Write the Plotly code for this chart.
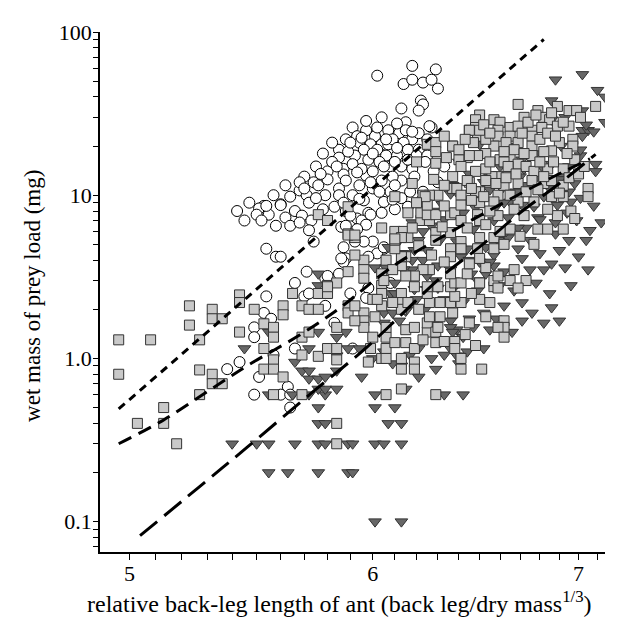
import plotly.graph_objects as go

# ---- data: (relative back-leg length, wet mass of prey load in mg) ----
circles = [
    (6.02,54),(6.18,62),(6.29,59),(6.14,48),(6.18,51),(6.23,49),(6.27,51),(6.30,45),(6.13,34),(6.22,38),
    (6.23,36),(6.21,33),(6.15,28),(6.27,26),(5.91,26),(5.78,18),(5.85,19),(5.85,17),(5.80,14),(5.87,14.5),
    (5.87,13.4),(5.74,12),(5.68,10.7),(5.64,9.8),(5.71,10),(5.79,10),(5.85,11),(5.60,8.8),(5.53,8.6),(5.51,8.3),
    (5.93,23),(5.94,21),(6.01,23),(6.07,25),(6.12,24),(6.15,25),(6.18,22),(6.21,24),(6.26,26.5),(5.99,20.5),
    (6.04,20.5),(6.07,20.5),(6.14,21),(6.16,19),(6.21,19),(5.96,19),(6.02,19),(5.92,17.5),(5.98,16.5),(6.06,17.5),
    (6.11,17.5),(6.20,17.5),(6.25,17.5),(6.24,16),(6.28,14),(6.08,15),(6.13,15),(6.18,14.5),(5.91,15.5),(5.88,12.3),
    (5.97,13.2),(6.04,12.3),(6.13,12.3),(5.91,10),(6.00,11),(6.08,10.5),(6.17,10.5),(6.23,10.5),(5.85,10),(5.96,9.3),
    (6.05,9.1),(6.13,9.6),(5.70,13),(5.75,15),(5.82,16),(5.82,21),(5.88,22),(5.76,11.5),(5.72,9),(5.66,8),
    (5.62,7.3),(5.69,7.5),(5.55,7.6),(5.50,7.6),(5.45,7.0),(5.42,8.0),(5.47,9.0),(5.57,10),(5.62,11.5),(5.68,12),
    (5.80,12.5),(5.83,8.5),(5.88,8.0),(5.93,7.2),(5.98,7.8),(6.04,7.8),(6.10,8.2),(6.16,8.5),(6.22,9.2),(6.30,12),
    (6.33,15),(6.00,14),(6.09,13),(5.94,11.5),(5.78,8.2),(5.73,7.0),(5.58,6.5),(5.64,6.5),(5.86,6.4),(5.54,4.7),
    (5.58,4.2),(5.60,4.2),(5.71,3.4),(5.66,2.9),(5.70,2.4),(5.72,2.5),(5.54,2.4),(5.79,2.1),(5.53,1.9),(5.56,1.75),
    (5.49,1.55),(5.49,1.35),(5.66,1.15),(5.57,1.05),(5.43,0.95),(5.38,0.86),(5.51,0.77),(5.72,6.1),(5.74,5.2),(5.87,4.8),
    (5.88,4.1),(5.87,3.9),(5.85,3.3),(5.79,3.1),(5.83,1.65),(5.63,0.67),(5.49,0.6),(5.60,0.6),(5.64,0.6),(5.64,0.5),
    (5.95,7.0),(6.00,5.2),(6.05,4.7),(6.02,4.4),(6.08,2.9),(5.98,2.7),(5.97,2.35),(5.91,1.15),(5.99,7.6),(5.90,7.5),
    (5.97,6.6),(5.96,5.2),(5.54,8.6),(5.60,8.7),(5.88,6.5),(5.92,5.2),(5.93,6.2),(5.98,4.2),(6.05,4.8),(5.90,2.5),
    (5.86,4.1),(5.80,3.2),(5.52,7.0),(5.68,6.8),(6.10,11.5),(5.95,14.5),(6.03,16),(5.89,18.5),(6.09,22),(5.97,25),
    (5.90,21),(5.95,22.5),(6.00,18),(6.05,15),(6.10,16),(6.16,16.5),(6.19,13),(6.11,19.5),(6.06,22),(6.02,26),
    (5.93,13.8),(5.99,12),(6.03,10.5),(6.09,9.4),(5.94,9.5),(5.87,9.0),(5.75,9.6),(5.70,11),(5.77,13.5),(5.84,15),
    (6.18,24.5),(6.25,22),(6.11,27.5),(6.04,30),(5.97,28.5),
]
squares = [
    (4.96,1.3),(4.96,0.8),(5.08,1.3),(5.03,0.4),(5.13,0.5),(5.13,0.4),(5.18,0.3),(5.23,2.1),(5.23,1.6),(5.27,1.3),
    (5.27,0.85),(5.27,0.6),(5.32,2.0),(5.32,1.75),(5.36,1.75),(5.32,0.8),(5.32,0.7),(5.36,0.7),(5.43,2.45),(5.43,2.2),
    (5.49,2.0),(5.61,2.1),(5.61,1.85),(5.53,1.63),(5.57,1.55),(5.57,1.35),(5.43,1.45),(5.53,1.15),(5.57,0.98),(5.53,0.86),
    (5.57,0.86),(5.61,0.77),(5.65,2.5),(5.69,2.1),(5.72,2.0),(5.76,2.0),(5.76,2.5),(5.80,2.5),(5.80,2.8),(5.84,2.9),
    (5.69,1.35),(5.72,1.45),(5.69,1.05),(5.76,1.03),(5.84,1.55),(5.80,1.15),(5.84,1.15),(5.84,0.98),(5.89,2.1),(5.89,1.9),
    (5.76,7.6),(5.80,7.0),(5.89,5.8),(5.89,3.4),(5.57,0.6),(5.69,0.6),(5.84,0.4),(5.84,0.3),(6.13,0.65),(6.06,0.6),
    (6.29,0.6),(5.92,5.5),(5.96,4.0),(5.96,3.5),(5.96,3.1),(6.04,3.3),(6.04,2.8),(6.04,2.5),(6.04,2.1),(6.00,2.3),
    (5.96,1.9),(5.96,1.7),(5.96,1.55),(5.92,2.1),(5.92,1.7),(5.99,1.15),(6.04,1.0),(6.06,1.15),(6.06,1.0),(6.06,1.35),
    (6.06,1.55),(6.13,1.0),(6.13,0.86),(6.19,0.95),(6.19,0.86),(6.15,1.25),(6.19,1.15),(6.15,1.5),(6.19,1.55),(6.25,1.45),
    (6.25,1.65),(6.29,1.45),(6.29,1.25),(6.33,1.27),(6.38,1.27),(6.38,1.15),(6.41,1.0),(6.41,0.86),(6.51,0.86),(6.26,1.8),
    (6.31,1.8),(6.37,1.9),(6.45,1.65),(6.53,1.8),(6.62,1.7),(6.62,1.55),(6.59,1.55),(6.62,1.35),(6.50,2.3),(6.41,2.2),
    (6.36,2.2),(6.31,2.2),(6.26,2.2),(6.38,2.4),(6.25,2.5),(6.19,2.75),(6.13,2.5),(6.13,2.2),(6.13,2.0),(6.16,2.2),
    (6.25,2.75),(6.30,2.75),(6.36,2.75),(6.38,2.9),(6.41,2.9),(6.50,2.9),(6.57,2.75),(6.57,3.0),(6.65,3.0),(6.73,3.0),
    (6.69,2.7),(6.59,3.2),(6.53,3.6),(6.44,3.3),(6.36,3.3),(6.26,3.5),(6.23,3.5),(6.19,3.2),(6.15,3.2),(6.13,3.7),
    (6.15,4.2),(6.13,4.2),(6.10,4.7),(6.10,5.3),(6.10,6.0),(6.14,6.0),(6.16,5.5),(6.22,7.0),(6.22,7.8),(6.26,7.0),
    (6.29,5.9),(6.29,5.3),(6.36,5.9),(6.36,4.7),(6.36,4.2),(6.41,5.2),(6.41,4.7),(6.49,4.7),(6.50,5.5),(6.57,5.5),
    (6.57,4.7),(6.62,5.0),(6.50,4.1),(6.59,2.7),(6.36,7.6),(6.38,7.8),(6.41,7.0),(6.49,7.6),(6.50,7.0),(6.59,7.5),
    (6.65,6.2),(6.79,6.2),(6.84,6.2),(6.92,6.2),(6.89,7.5),(6.96,8.0),(6.25,7.6),(6.29,7.6),(6.16,7.8),(6.13,5.5),
    (6.69,36),(6.50,31),(6.48,29),(6.48,26),(6.45,25),(6.49,23),(6.57,29),(6.60,28),(6.59,25),(6.59,23),
    (6.65,26),(6.65,23),(6.72,30),(6.69,26.5),(6.76,25),(6.76,23),(6.79,33),(6.82,30),(6.85,29),(6.89,35),
    (6.86,32),(6.95,33),(6.99,33),(7.01,30),(7.09,35),(6.81,26),(6.89,26.5),(6.95,26.5),(6.97,22),(6.97,20),
    (6.90,21),(6.86,18.7),(6.82,18.5),(6.76,20),(6.76,17.5),(6.69,21),(6.65,17),(6.57,20),(6.53,22),(6.53,18),
    (6.49,17.5),(6.44,17),(6.60,16.5),(6.62,16),(6.69,15.5),(6.73,15),(6.77,14),(6.84,14.5),(6.92,14.5),(6.98,16.5),
    (6.59,13),(6.56,13),(6.64,15),(6.48,14),(6.50,25),(6.37,20),(6.25,20.5),(6.29,21),(6.20,16),(6.29,15.7),
    (6.37,13),(6.37,11),(6.39,11),(6.41,10),(6.45,12),(6.50,10.5),(6.59,10),(6.62,11.5),(6.69,11.8),(6.76,12.3),
    (6.82,11.8),(6.86,12.3),(6.92,11.5),(6.92,9.8),(7.05,11),(7.05,9.8),(6.86,9.8),(6.82,13),(6.77,9.1),(6.69,9.1),
    (6.65,10),(6.57,9.1),(6.50,9.0),(6.41,8.7),(6.30,10),(6.26,10),(6.23,10),(6.25,8.7),(6.10,9.8),(6.29,18.5),
    (6.40,16.5),(6.53,14.5),(6.53,12.3),(6.45,17.5),(6.41,15),(6.48,10.5),(6.44,12.3),(6.24,9.8),(6.33,8.6),(5.80,2.75),
    (5.92,4.3),(6.02,2.3),(6.06,4.0),(6.10,5.4),(6.04,6.3),(5.89,5.7),(5.92,5.7),(5.89,8.5),(6.37,20),(6.45,25),
    (6.52,27),(6.55,24),(6.63,21),(6.67,19),(6.71,24),(6.74,28),(6.78,31),(6.80,22),(6.84,24),(6.88,23),
    (6.92,28),(6.94,18),(6.87,16),(6.80,16),(6.72,18),(6.62,18.5),(6.55,16),(6.47,21),(6.43,22),(6.40,19),
    (6.34,17),(6.33,23),(6.46,11),(6.52,9.8),(6.58,11.8),(6.63,12.8),(6.68,13.5),(6.73,10.5),(6.79,10.8),(6.84,8.2),
    (6.90,10.3),(6.95,12.8),(7.00,13.5),(7.03,15),(6.98,7.2),(6.72,7.5),(6.67,8.2),(6.55,8.0),(6.46,9.3),(6.33,11.5),
    (6.28,12.5),(6.18,11.8),(6.20,9.0),(6.44,6.3),(6.53,6.6),(6.60,6.0),(6.70,5.6),(6.77,5.0),(6.45,3.8),(6.33,3.9),
    (6.27,4.3),(6.21,4.9),(6.18,6.3),(6.32,6.4),(6.05,3.0),(6.09,3.5),(6.01,1.8),(6.09,2.2),(6.21,2.0),(6.46,2.5),
    (6.55,2.2),(6.67,3.5),(6.30,1.55),(6.43,1.4),(6.48,1.2),(6.23,1.3),(6.10,1.25),(6.00,1.35),(5.98,0.95),
]
triangles = [
    (6.88,51),(7.02,55),(7.10,44),(7.14,40),(6.86,38),(6.96,34),(7.02,33),(7.14,28),(6.93,30),(7.02,25),
    (7.05,25),(7.08,24.5),(7.02,23),(7.09,15.5),(7.09,14),(7.01,17.5),(7.01,19),(6.95,15),(6.92,13),(6.86,15.5),
    (6.82,14.5),(6.71,16.5),(6.65,20),(6.50,20.5),(6.52,12),(6.40,16),(6.37,11.5),(6.36,10.2),(6.27,10.2),(6.55,13),
    (6.61,11),(6.73,11.5),(6.85,11),(6.95,10.5),(7.01,9.6),(6.96,9.1),(6.89,8.7),(6.82,9.8),(6.77,8.5),(6.71,8.7),
    (6.65,9.1),(6.62,9.0),(6.86,29),(7.04,27),(6.50,9.3),(7.12,6.8),(7.06,6.1),(7.04,5.3),(6.95,5.3),(6.90,4.6),
    (6.99,7.0),(6.93,3.6),(6.86,3.8),(6.82,3.5),(6.75,3.5),(6.71,4.1),(6.75,5.3),(6.69,4.7),(6.73,6.3),(6.64,5.5),
    (6.62,2.1),(6.71,2.2),(6.71,1.7),(6.82,1.65),(6.90,1.7),(6.55,1.5),(6.45,1.75),(6.39,1.5),(6.36,1.7),(6.36,1.55),
    (6.37,1.45),(6.42,1.35),(6.37,1.15),(6.36,1.15),(6.27,1.0),(6.21,1.15),(6.13,0.9),(6.09,0.93),(6.29,0.86),(6.21,0.77),
    (5.95,0.77),(6.40,0.93),(6.39,1.04),(6.49,2.6),(6.42,2.2),(6.52,1.9),(6.08,2.5),(6.10,2.5),(6.05,1.9),(6.05,1.65),
    (6.09,1.9),(6.12,1.7),(6.24,2.0),(6.19,2.65),(6.25,2.65),(6.30,2.7),(6.37,2.65),(6.53,3.3),(6.57,3.7),(6.60,2.8),
    (6.49,3.0),(6.36,3.5),(6.30,3.7),(6.25,3.2),(6.18,3.5),(6.14,3.5),(6.18,4.0),(6.23,4.0),(6.41,4.2),(6.45,4.0),
    (6.50,3.9),(6.53,4.8),(6.59,5.3),(6.57,4.3),(6.44,4.7),(6.39,5.2),(6.31,5.3),(6.25,4.6),(6.19,4.6),(6.15,4.4),
    (6.21,5.3),(6.13,4.4),(6.01,3.6),(6.06,3.6),(6.10,2.9),(6.18,6.8),(6.27,6.5),(6.33,7.1),(6.37,8.0),(6.42,7.8),
    (6.57,7.0),(6.64,7.3),(6.69,6.3),(6.79,7.3),(6.80,7.1),(6.63,6.0),(6.05,1.1),(5.94,1.15),(5.76,3.3),(5.76,2.8),
    (5.55,1.45),(5.45,1.15),(5.72,1.15),(5.76,1.45),(5.66,0.95),(5.69,0.84),(5.72,0.84),(5.72,0.75),(5.76,0.75),(5.79,0.77),
    (5.84,1.04),(5.84,1.35),(5.88,1.45),(5.89,1.15),(5.84,0.84),(5.55,0.6),(5.65,0.6),(5.72,0.6),(5.79,0.6),(5.76,0.65),
    (5.79,0.65),(5.84,0.65),(5.76,0.5),(5.76,0.4),(5.79,0.4),(5.40,0.3),(5.50,0.3),(5.55,0.3),(5.66,0.3),(5.76,0.3),
    (5.79,0.3),(5.89,0.3),(5.55,0.2),(5.63,0.2),(5.76,0.2),(5.89,0.2),(6.01,0.6),(6.33,0.6),(6.42,0.6),(6.15,0.65),
    (6.01,0.5),(6.10,0.5),(6.07,0.4),(6.13,0.4),(5.91,0.3),(6.01,0.3),(6.05,0.3),(6.13,0.3),(5.91,0.2),(6.01,0.1),
    (6.13,0.1),(6.60,15),(6.45,13.5),(6.78,18),(6.91,20),(6.70,13),(6.32,8.8),(6.47,6.2),(6.55,10.8),(6.88,6.8),
    (6.46,3.3),(6.55,3.9),(6.62,3.4),(6.67,2.6),(6.78,2.9),(6.85,2.5),(6.96,2.8),(6.80,4.4),(6.88,5.8),(7.00,4.2),
    (7.08,8.6),(6.98,11.8),(6.90,12.5),(6.78,12.8),(6.68,10.5),(6.58,8.5),(6.48,8.4),(6.40,10.0),(6.29,8.0),(6.23,6.0),
    (6.12,5.3),(6.07,4.8),(6.29,3.0),(6.33,2.3),(6.20,2.3),(6.15,1.95),(6.28,1.65),(6.47,1.55),(6.58,1.75),(6.66,1.45),
    (6.76,1.9),(6.52,1.15),(6.44,1.1),(6.33,1.05),(6.17,1.05),(6.00,1.0),(6.86,2.05),(7.05,3.5),(6.94,7.8),(6.72,14.5),
]

# fitted regression curves
fit_circles_x = [4.96, 6.82]
fit_circles_y = [0.49, 90]
fit_squares_x = [4.96, 5.13, 5.31, 5.46, 5.68, 5.85, 6.09, 6.34, 6.57, 6.80, 7.06]
fit_squares_y = [0.30, 0.42, 0.64, 0.90, 1.39, 2.02, 3.66, 5.75, 8.36, 11.8, 16.7]
fit_tri_x = [5.04, 5.27, 5.47, 5.74, 5.97, 6.14, 6.32, 6.50, 6.70, 6.90, 7.09]
fit_tri_y = [0.082, 0.164, 0.293, 0.63, 1.16, 1.91, 3.19, 4.82, 7.8, 11.8, 17.8]

y_major = [0.1, 1.0, 10, 100]
y_labels = ["0.1", "1.0", "10", "100"]
x_major = [5, 6, 7]
x_title = "relative back-leg length of ant (back leg/dry mass<sup>1/3</sup>)"
y_title = "wet mass of prey load (mg)"

FONT = "Liberation Serif, Times New Roman, serif"

fig = go.Figure()
fig.add_trace(go.Scatter(
    x=[p[0] for p in circles], y=[p[1] for p in circles], mode="markers",
    marker=dict(symbol="circle", size=11, color="white", line=dict(color="black", width=1)),
    showlegend=False, hoverinfo="skip"))
fig.add_trace(go.Scatter(
    x=[p[0] for p in triangles], y=[p[1] for p in triangles], mode="markers",
    marker=dict(symbol="triangle-down", size=11, color="#676767", line=dict(color="#333333", width=1)),
    showlegend=False, hoverinfo="skip"))
fig.add_trace(go.Scatter(
    x=[p[0] for p in squares], y=[p[1] for p in squares], mode="markers",
    marker=dict(symbol="square", size=10, color="#c9c9c9", line=dict(color="#333333", width=1)),
    showlegend=False, hoverinfo="skip"))
fig.add_trace(go.Scatter(x=fit_circles_x, y=fit_circles_y, mode="lines",
    line=dict(color="black", width=3, dash="8px,6px"), showlegend=False, hoverinfo="skip"))
fig.add_trace(go.Scatter(x=fit_squares_x, y=fit_squares_y, mode="lines", line_shape="spline",
    line=dict(color="black", width=3, dash="14px,8px"), showlegend=False, hoverinfo="skip"))
fig.add_trace(go.Scatter(x=fit_tri_x, y=fit_tri_y, mode="lines", line_shape="spline",
    line=dict(color="black", width=3, dash="22px,9px"), showlegend=False, hoverinfo="skip"))

# tick positions (major + minor)
y_ticks = [0.07, 0.08, 0.09]
for dec in [0.1, 1, 10]:
    y_ticks += [round(dec * k, 3) for k in range(1, 10)]
y_ticks.append(100)
y_text = [y_labels[y_major.index(v)] if v in y_major else "" for v in y_ticks]
x_ticks = [round(5 + 0.1 * i, 1) for i in range(22)]
x_text = [str(int(v)) if v in x_major else "" for v in x_ticks]

fig.update_layout(
    width=637, height=625,
    margin=dict(l=92, r=40, t=12, b=81),
    paper_bgcolor="white", plot_bgcolor="white",
    font=dict(family=FONT, size=22, color="black"),
    xaxis=dict(type="log", range=[0.6894, 0.8537], showgrid=False, zeroline=False,
               showline=True, linecolor="black", linewidth=1.5,
               ticks="outside", ticklen=6, tickwidth=1, tickcolor="black",
               tickmode="array", tickvals=x_ticks, ticktext=x_text, ticklabelstandoff=-5,
               tickfont=dict(family=FONT, size=22), ticklabeloverflow="allow"),
    yaxis=dict(type="log", range=[-1.186, 2.0], showgrid=False, zeroline=False,
               showline=True, linecolor="black", linewidth=1.5,
               ticks="outside", ticklen=5, tickwidth=1, tickcolor="black",
               tickmode="array", tickvals=y_ticks, ticktext=y_text, ticklabelstandoff=-3,
               tickfont=dict(family=FONT, size=22), ticklabeloverflow="allow"),
    annotations=[
        dict(text=x_title, xref="paper", yref="paper", x=0.475, y=-0.097,
             xanchor="center", yanchor="middle", showarrow=False,
             font=dict(family=FONT, size=24, color="black")),
        dict(text=y_title, xref="paper", yref="paper", x=-0.1327, y=0.4925,
             xanchor="center", yanchor="middle", showarrow=False, textangle=-90,
             font=dict(family=FONT, size=23, color="black")),
    ],
)
fig.write_html("out.html")
